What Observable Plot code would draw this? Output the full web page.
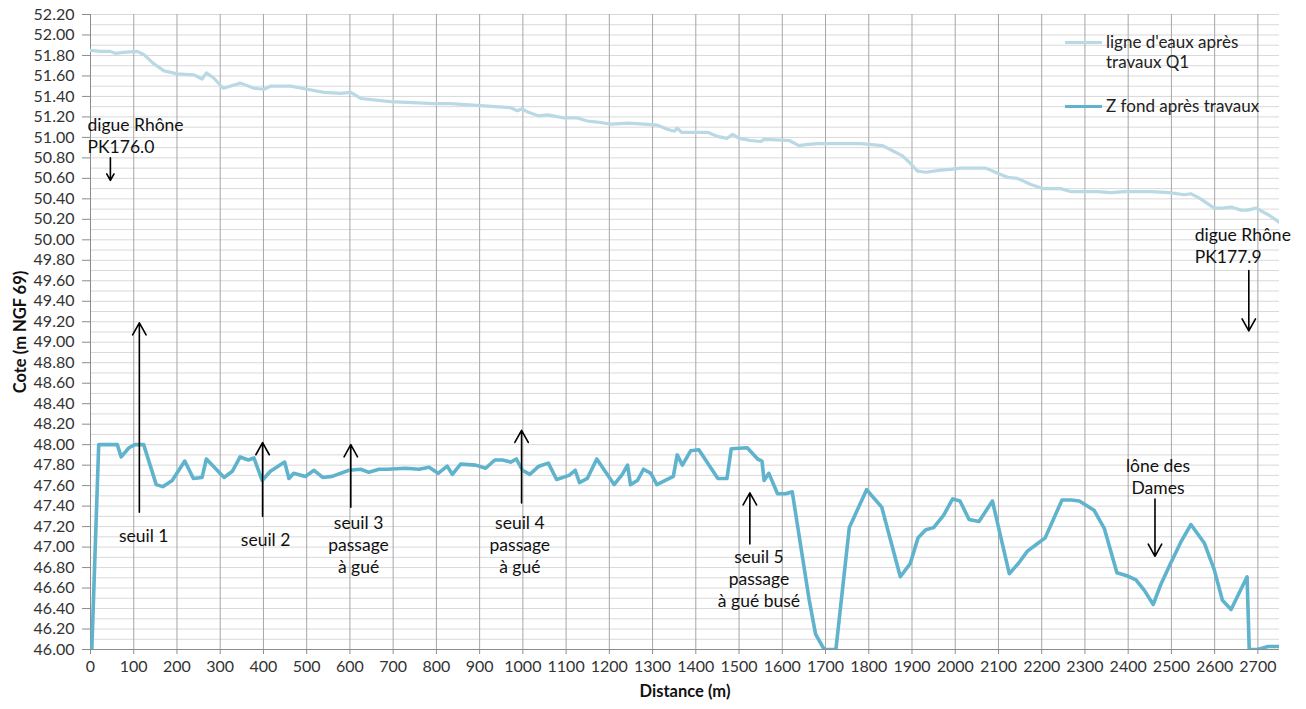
<!DOCTYPE html>
<html>
<head>
<meta charset="utf-8">
<script src="https://cdn.jsdelivr.net/npm/d3@7"></script>
<script src="https://cdn.jsdelivr.net/npm/@observablehq/plot@0.6"></script>
<style>
  html, body { margin: 0; padding: 0; background: #fff; }
  body { width: 1306px; height: 709px; overflow: hidden; font-family: Lato, "Open Sans", sans-serif; }
  #wrap { position: relative; width: 1306px; height: 709px; }
  #legend { position: absolute; left: 1065px; top: 0; font-size: 17px; color: #222; line-height: 20px; }
  .item { position: absolute; left: 0; white-space: nowrap; }
  .sw { position: absolute; left: 0; width: 37px; height: 3px; }
  .lbl { position: absolute; left: 41px; }
  g[aria-label="x-axis label"] text, g[aria-label="y-axis label"] text { font-weight: bold; font-size: 16.5px; fill: #111; }
</style>
</head>
<body>
<div id="wrap">
  <div id="chart"></div>
  <div id="legend"></div>
</div>
<script>
// ---- data ----
const fondDist = [3,19,62,71,89,103,123,152,167,189,218,238,258,268,309,328,346,365,378,397,416,449,459,470,497,517,537,559,598,625,644,667,686,729,760,783,804,825,837,856,891,914,935,953,972,985,999,1016,1037,1059,1078,1107,1121,1131,1149,1171,1211,1230,1242,1249,1265,1279,1296,1310,1348,1357,1369,1388,1407,1451,1472,1482,1519,1543,1553,1558,1569,1589,1608,1623,1662,1677,1697,1724,1755,1795,1830,1873,1896,1914,1932,1950,1973,1994,2011,2032,2055,2086,2125,2146,2167,2189,2208,2247,2268,2287,2321,2345,2374,2397,2418,2437,2458,2476,2499,2522,2545,2576,2599,2618,2638,2675,2680,2699,2724,2750];
const fondZ = [46.00,48.00,48.00,47.88,47.97,48.00,48.00,47.61,47.59,47.65,47.84,47.67,47.68,47.86,47.68,47.74,47.88,47.85,47.87,47.65,47.74,47.83,47.67,47.72,47.69,47.75,47.68,47.69,47.75,47.76,47.73,47.76,47.76,47.77,47.76,47.78,47.72,47.79,47.71,47.81,47.80,47.77,47.85,47.85,47.83,47.86,47.75,47.71,47.79,47.82,47.66,47.70,47.75,47.63,47.67,47.86,47.61,47.71,47.80,47.61,47.65,47.76,47.72,47.61,47.69,47.90,47.80,47.94,47.95,47.67,47.67,47.96,47.97,47.86,47.84,47.65,47.72,47.52,47.52,47.54,46.49,46.15,46.00,46.00,47.19,47.56,47.39,46.71,46.84,47.09,47.17,47.19,47.31,47.47,47.45,47.27,47.25,47.45,46.74,46.84,46.96,47.03,47.09,47.46,47.46,47.45,47.36,47.18,46.75,46.72,46.68,46.58,46.44,46.64,46.85,47.05,47.22,47.04,46.78,46.48,46.39,46.71,46.00,46.00,46.03,46.03];

const eauDist = [0,23,46,58,76,108,123,146,170,201,239,258,268,285,307,347,378,401,416,463,501,540,578,602,625,694,794,833,902,972,987,999,1010,1037,1057,1095,1126,1149,1172,1203,1245,1280,1311,1334,1350,1357,1367,1427,1450,1472,1485,1500,1527,1550,1558,1616,1639,1654,1681,1751,1782,1832,1855,1878,1893,1913,1932,1967,1994,2013,2071,2098,2121,2144,2175,2202,2244,2268,2306,2329,2360,2391,2453,2495,2530,2545,2564,2599,2618,2638,2661,2676,2696,2726,2750];
const eauZ = [51.85,51.84,51.84,51.82,51.83,51.84,51.81,51.72,51.65,51.62,51.61,51.57,51.63,51.58,51.48,51.53,51.48,51.47,51.50,51.50,51.47,51.44,51.43,51.44,51.38,51.35,51.33,51.33,51.31,51.29,51.26,51.28,51.25,51.21,51.22,51.19,51.19,51.16,51.15,51.13,51.14,51.13,51.12,51.08,51.06,51.09,51.05,51.05,51.01,50.99,51.03,50.99,50.97,50.96,50.98,50.97,50.92,50.93,50.94,50.94,50.94,50.92,50.87,50.82,50.76,50.67,50.66,50.68,50.69,50.70,50.70,50.65,50.61,50.60,50.54,50.50,50.50,50.47,50.47,50.47,50.46,50.47,50.47,50.46,50.44,50.45,50.41,50.31,50.31,50.32,50.29,50.29,50.31,50.24,50.17];

const xTicks = [0,100,200,300,400,500,600,700,800,900,1000,1100,1200,1300,1400,1500,1600,1700,1800,1900,2000,2100,2200,2300,2400,2500,2600,2700];
const yTickLabels = ["46.00","46.20","46.40","46.60","46.80","47.00","47.20","47.40","47.60","47.80","48.00","48.20","48.40","48.60","48.80","49.00","49.20","49.40","49.60","49.80","50.00","50.20","50.40","50.60","50.80","51.00","51.20","51.40","51.60","51.80","52.00","52.20"];
const yGridLevels = d3.range(460, 523).map(d => d / 10);

// annotations (data coordinates: distance m, cote m)
const arrowX  = [46, 2679, 113, 398, 602, 997, 1525, 2462];
const arrowY1 = [50.80, 49.70, 47.34, 47.30, 47.39, 47.43, 47.03, 47.47];
const arrowY2 = [50.58, 49.11, 49.19, 48.02, 48.00, 48.14, 47.53, 46.91];

const noteX = [-7, 2554, 123, 405, 620, 993, 1546, 2469];
const noteY = [51.02, 49.95, 47.12, 47.08, 47.03, 47.03, 46.70, 47.69];
const noteText = ["digue Rhône\nPK176.0", "digue Rhône\nPK177.9", "seuil 1", "seuil 2", "seuil 3\npassage\nà gué", "seuil 4\npassage\nà gué", "seuil 5\npassage\nà gué busé", "lône des\nDames"];
const noteAnchor = ["start", "start", "middle", "middle", "middle", "middle", "middle", "middle"];

const seriesNames = ["ligne d'eaux après\ntravaux Q1", "Z fond après travaux"];
const seriesColors = ["#b9d9e4", "#5fb3cc"];

// ---- tables ----
const fond = fondDist.map((d, i) => ({x: d, y: fondZ[i]}));
const eau = eauDist.map((d, i) => ({x: d, y: eauZ[i]}));
const arrows = arrowX.map((d, i) => ({x: d, y1: arrowY1[i], y2: arrowY2[i]}));
const notes = noteX.map((d, i) => ({x: d, y: noteY[i], text: noteText[i], anchor: noteAnchor[i]}));
const yTicks = yTickLabels.map(Number);

const chart = Plot.plot({
  width: 1306,
  height: 709,
  marginTop: 14,
  marginRight: 27,
  marginBottom: 60,
  marginLeft: 90,
  style: {fontFamily: "Lato, 'Open Sans', sans-serif", fontSize: "16px", background: "white", color: "#333"},
  x: {domain: [0, 2750]},
  y: {domain: [46, 52.2]},
  marks: [
    Plot.gridY(yGridLevels, {stroke: "#d9d9d9", strokeOpacity: 1}),
    Plot.gridX(xTicks, {stroke: "#a6a6a6", strokeOpacity: 1}),
    Plot.ruleX([0], {stroke: "#8c8c8c"}),
    Plot.ruleY([46], {stroke: "#8c8c8c"}),
    Plot.axisY(yTicks, {tickFormat: d => d.toFixed(2), tickSize: 8, tickPadding: 8, stroke: "#8c8c8c", fill: "#333",
      label: "Cote (m NGF 69)", labelAnchor: "center", labelOffset: 76, labelArrow: "none"}),
    Plot.axisX(xTicks, {tickFormat: d => String(d), tickSize: 5, tickPadding: 6, stroke: "#8c8c8c", fill: "#333",
      label: "Distance (m)", labelAnchor: "center", labelOffset: 47, labelArrow: "none"}),
    Plot.line(eau, {x: "x", y: "y", stroke: seriesColors[0], strokeWidth: 3.2, clip: true}),
    Plot.line(fond, {x: "x", y: "y", stroke: seriesColors[1], strokeWidth: 3.6, clip: true}),
    Plot.arrow(arrows, {x1: "x", x2: "x", y1: "y1", y2: "y2", stroke: "black", strokeWidth: 1.6, headLength: 13, headAngle: 58}),
    Plot.text(notes.filter(d => d.anchor === "start"), {x: "x", y: "y", text: "text", textAnchor: "start", fontSize: 17.5, lineHeight: 1.26, fill: "#111"}),
    Plot.text(notes.filter(d => d.anchor === "middle"), {x: "x", y: "y", text: "text", textAnchor: "middle", fontSize: 17.5, lineHeight: 1.26, fill: "#111"})
  ]
});
document.getElementById("chart").appendChild(chart);

// legend
const legend = document.getElementById("legend");
const legendTops = [42, 106];
seriesNames.forEach((name, i) => {
  const item = document.createElement("div");
  item.className = "item";
  item.style.top = (legendTops[i] - 10) + "px";
  const sw = document.createElement("div");
  sw.className = "sw";
  sw.style.background = seriesColors[i];
  sw.style.top = "9px";
  const lbl = document.createElement("div");
  lbl.className = "lbl";
  lbl.innerHTML = name.split("\n").join("<br>");
  item.appendChild(sw);
  item.appendChild(lbl);
  legend.appendChild(item);
});
</script>
</body>
</html>
